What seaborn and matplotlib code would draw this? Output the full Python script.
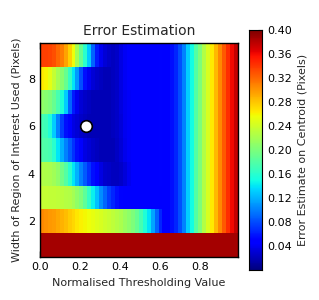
import numpy as np
import pandas as pd
import matplotlib
matplotlib.use('Agg')
import matplotlib.pyplot as plt
import seaborn as sns

# =============================================
# DATA
# =============================================
# threshold values, one column per 0.02 step
thresholds = [round(0.02 * i, 2) for i in range(50)]
roi_widths = [9, 8, 7, 6, 5, 4, 3, 2, 1]   # top row first

# right-hand part shared by rows 2..9 (thresholds 0.62 .. 0.98)
tail = [0.045, 0.046, 0.055, 0.065, 0.08, 0.10, 0.13, 0.15, 0.18, 0.20,
        0.225, 0.245, 0.265, 0.285, 0.305, 0.325, 0.345, 0.36, 0.375]

row9 = [0.337, 0.337, 0.335, 0.33, 0.32, 0.31, 0.295, 0.275, 0.255, 0.22,
        0.19, 0.16, 0.13, 0.09, 0.06, 0.04, 0.03, 0.025, 0.022, 0.025,
        0.035, 0.042, 0.044, 0.045, 0.045, 0.045, 0.045, 0.046, 0.047, 0.048,
        0.05] + tail
row8 = [0.265, 0.26, 0.25, 0.235, 0.22, 0.205, 0.19, 0.165, 0.14, 0.11,
        0.08, 0.055, 0.04, 0.03, 0.025, 0.022, 0.02, 0.02, 0.022, 0.025,
        0.035, 0.042, 0.044, 0.045, 0.045, 0.045, 0.045, 0.046, 0.047, 0.048,
        0.05] + tail
row7 = [0.21, 0.205, 0.20, 0.19, 0.175, 0.155, 0.13, 0.09, 0.06, 0.04,
        0.03, 0.025, 0.022, 0.02, 0.02, 0.02, 0.02, 0.02, 0.022, 0.025,
        0.033, 0.04, 0.043, 0.045, 0.045, 0.045, 0.045, 0.046, 0.047, 0.048,
        0.05] + tail
row6 = [0.175, 0.17, 0.155, 0.13, 0.10, 0.075, 0.055, 0.045, 0.035, 0.03,
        0.025, 0.022, 0.02, 0.02, 0.02, 0.02, 0.02, 0.02, 0.022, 0.025,
        0.032, 0.04, 0.043, 0.045, 0.045, 0.045, 0.045, 0.046, 0.047, 0.048,
        0.05] + tail
row5 = [0.18, 0.178, 0.175, 0.16, 0.14, 0.12, 0.10, 0.085, 0.07, 0.055,
        0.045, 0.035, 0.03, 0.025, 0.022, 0.02, 0.02, 0.02, 0.02, 0.024,
        0.03, 0.038, 0.043, 0.045, 0.045, 0.045, 0.045, 0.046, 0.047, 0.048,
        0.05] + tail
row4 = [0.225, 0.224, 0.222, 0.218, 0.21, 0.195, 0.18, 0.16, 0.14, 0.12,
        0.10, 0.085, 0.07, 0.055, 0.045, 0.035, 0.028, 0.025, 0.022, 0.022,
        0.025, 0.032, 0.04, 0.044, 0.045, 0.045, 0.045, 0.046, 0.047, 0.048,
        0.05] + tail
row3 = [0.235, 0.235, 0.234, 0.233, 0.232, 0.23, 0.228, 0.225, 0.22, 0.21,
        0.20, 0.185, 0.165, 0.145, 0.125, 0.105, 0.09, 0.075, 0.065, 0.055,
        0.05, 0.047, 0.045, 0.044, 0.044, 0.044, 0.045, 0.045, 0.046, 0.047,
        0.048] + tail
row2 = [0.305, 0.303, 0.30, 0.297, 0.293, 0.288, 0.283, 0.278, 0.272, 0.266,
        0.262, 0.258, 0.255, 0.252, 0.248, 0.244, 0.24, 0.236, 0.232, 0.227,
        0.222, 0.215, 0.208, 0.20, 0.19, 0.175, 0.155, 0.14, 0.115, 0.09,
        0.065] + tail
row1 = [0.386] * 50

best_threshold = 0.23
best_width = 6

x_ticks = [0.0, 0.2, 0.4, 0.6, 0.8]
y_ticks = [2, 4, 6, 8]
cbar_ticks = [0.04, 0.08, 0.12, 0.16, 0.20, 0.24, 0.28, 0.32, 0.36, 0.40]

# =============================================
# PLOT
# =============================================
grid = pd.DataFrame([row9, row8, row7, row6, row5, row4, row3, row2, row1],
                    index=roi_widths, columns=thresholds)

sns.set_style('white')
plt.rcParams['font.family'] = ['DejaVu Sans']

fig = plt.figure(figsize=(3.19, 3.0), dpi=100)
ax = fig.add_axes([0.125, 0.143, 0.62, 0.714])
cax = fig.add_axes([0.78, 0.10, 0.041, 0.80])

sns.heatmap(grid, ax=ax, cbar_ax=cax, cmap='jet', vmin=0.0, vmax=0.40,
            xticklabels=False, yticklabels=False,
            cbar_kws={'ticks': cbar_ticks, 'format': '%.2f'})

# map data values to heatmap cell positions
x_extent = 0.99
ncols = len(thresholds)
def xpos(v):
    return v * ncols / x_extent
def ypos(w):
    return roi_widths[0] + 0.5 - w

ax.set_xlim(0, ncols)
ax.set_ylim(len(roi_widths), 0)
ax.set_xticks([xpos(v) for v in x_ticks])
ax.set_xticklabels([f'{v:.1f}' for v in x_ticks], rotation=0)
ax.set_yticks([ypos(w) for w in y_ticks])
ax.set_yticklabels([str(w) for w in y_ticks], rotation=0)
ax.tick_params(direction='in', length=4, width=1, labelsize=8,
               top=True, right=True, bottom=True, left=True, colors='black')
for spine in ax.spines.values():
    spine.set_visible(True)
    spine.set_color('black')
    spine.set_linewidth(1)

ax.scatter([xpos(best_threshold)], [ypos(best_width)], s=70, color='white',
           edgecolor='black', linewidth=1.2, zorder=5)

ax.set_title('Error Estimation', fontsize=10)
ax.set_xlabel('Normalised Thresholding Value', fontsize=8)
ax.set_ylabel('Width of Region of Interest Used (Pixels)', fontsize=8)

cax.tick_params(direction='in', length=3, labelsize=8, colors='black')
cax.set_ylabel('Error Estimate on Centroid (Pixels)', fontsize=8)
for spine in cax.spines.values():
    spine.set_visible(True)
    spine.set_color('black')

fig.savefig('out.png', dpi=100)
